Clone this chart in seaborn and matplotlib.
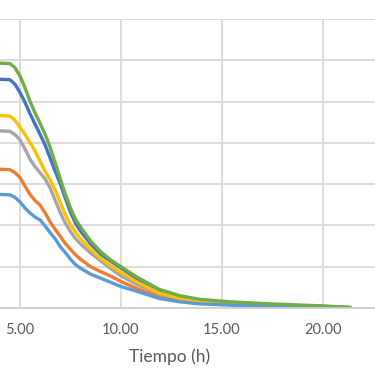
import seaborn as sns
import matplotlib.pyplot as plt
import pandas as pd

# time axis (h) and the six curves
tiempo = [3.5, 4.0, 4.5, 4.75, 5.0, 5.25, 5.5, 5.75, 6.0, 6.25, 6.5, 6.75, 7.0, 7.25,
          7.5, 7.75, 8.0, 8.5, 9.0, 9.5, 10.0, 10.75, 11.9, 12.9, 13.9, 15.4, 17.4, 20.0, 21.35]

serie_azul = [5.54, 5.54, 5.53, 5.42, 5.22, 4.98, 4.7, 4.45, 4.2, 3.94, 3.62, 3.3, 3.0, 2.65,
              2.32, 2.05, 1.86, 1.55, 1.3, 1.13, 0.97, 0.72, 0.40, 0.27, 0.18, 0.12, 0.08, 0.04, 0.01]
serie_naranja = [3.36, 3.36, 3.35, 3.28, 3.16, 2.95, 2.75, 2.6, 2.49, 2.3, 2.08, 1.9, 1.73, 1.56,
                 1.42, 1.29, 1.18, 1.0, 0.88, 0.77, 0.64, 0.48, 0.27, 0.18, 0.12, 0.08, 0.05, 0.025, 0.01]
serie_gris = [4.29, 4.29, 4.28, 4.2, 4.07, 3.85, 3.6, 3.42, 3.27, 3.12, 2.9, 2.6, 2.3, 2.05,
              1.85, 1.68, 1.55, 1.33, 1.14, 0.95, 0.78, 0.58, 0.34, 0.23, 0.15, 0.10, 0.065, 0.03, 0.01]
serie_amarilla = [4.66, 4.66, 4.65, 4.55, 4.38, 4.2, 4.0, 3.8, 3.55, 3.3, 3.1, 2.85, 2.55, 2.25,
                  2.02, 1.84, 1.68, 1.42, 1.2, 1.02, 0.86, 0.64, 0.36, 0.24, 0.16, 0.11, 0.07, 0.035, 0.01]
serie_celeste = [2.75, 2.75, 2.74, 2.68, 2.57, 2.42, 2.3, 2.2, 2.13, 1.98, 1.82, 1.67, 1.48, 1.34,
                 1.18, 1.05, 0.96, 0.82, 0.72, 0.62, 0.52, 0.41, 0.23, 0.15, 0.10, 0.07, 0.045, 0.02, 0.01]
serie_verde = [5.93, 5.93, 5.92, 5.82, 5.62, 5.33, 5.0, 4.72, 4.47, 4.2, 3.88, 3.5, 3.12, 2.75,
               2.42, 2.15, 1.96, 1.62, 1.36, 1.16, 1.0, 0.76, 0.45, 0.30, 0.21, 0.15, 0.10, 0.05, 0.01]

nombres = ['Serie 1', 'Serie 2', 'Serie 3', 'Serie 4', 'Serie 5', 'Serie 6']
valores = [serie_azul, serie_naranja, serie_gris, serie_amarilla, serie_celeste, serie_verde]
colores = ['#4472C4', '#ED7D31', '#A5A5A5', '#FFC000', '#5B9BD5', '#70AD47']

x_ticks = [5, 10, 15, 20]

df = pd.concat([pd.DataFrame({'t': tiempo, 'v': v, 'serie': n}) for n, v in zip(nombres, valores)])

sns.set_style('white')
plt.rcParams['font.family'] = ['Lato', 'DejaVu Sans']

fig = plt.figure(figsize=(3.75, 3.75), dpi=100)
# the chart is cropped on left/top/right, so the axes fill the figure width
ax = fig.add_axes([0, 67 / 375, 1, 289 / 375])

sns.lineplot(data=df, x='t', y='v', hue='serie', palette=colores, linewidth=2.4,
             legend=False, ax=ax, sort=False)
for ln in ax.lines:
    ln.set_solid_joinstyle('round')

ax.set_xlim(5 - 20 / 20.2, 5 + 355 / 20.2)
ax.set_ylim(0, 7)
ax.set_xticks(x_ticks)
ax.set_xticklabels([f'{t:.2f}' for t in x_ticks])
ax.set_yticks(range(0, 8))
ax.set_yticklabels([])
ax.grid(True, color='#D9D9D9', linewidth=1.3)
ax.set_axisbelow(True)
for s in ['left', 'top', 'right']:
    ax.spines[s].set_visible(False)
ax.spines['bottom'].set_color('#CFCFCF')
ax.spines['bottom'].set_linewidth(1.3)
ax.tick_params(axis='x', length=0, pad=11, labelsize=10.5, labelcolor='#595959')
ax.tick_params(axis='y', length=0)
ax.set_ylabel('')
ax.set_xlabel('Tiempo (h)', fontsize=12.5, color='#595959')
ax.xaxis.set_label_coords(170 / 375, -0.14)

fig.savefig('out.png', dpi=100)
